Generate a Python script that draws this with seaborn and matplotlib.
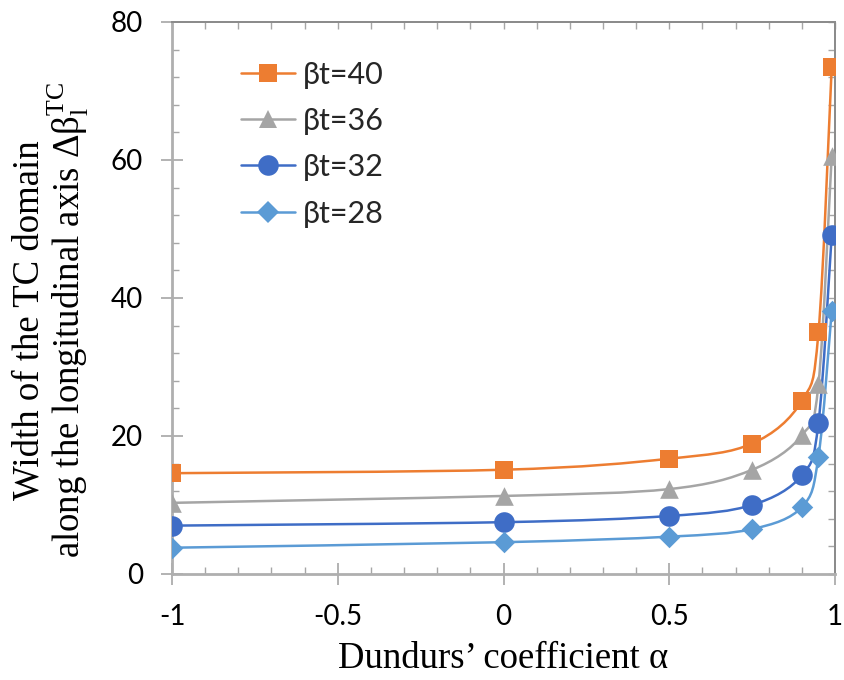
import numpy as np
import pandas as pd
import matplotlib
matplotlib.use("Agg")
import matplotlib.pyplot as plt
import seaborn as sns
from matplotlib.path import Path
from matplotlib.patches import PathPatch
from matplotlib.lines import Line2D
from matplotlib.ticker import MultipleLocator

# data
alpha = [-1.0, 0.0, 0.5, 0.75, 0.9, 0.95, 0.99]
bt40 = [14.6, 15.1, 16.7, 18.9, 25.1, 35.0, 73.5]
bt36 = [10.3, 11.3, 12.3, 15.1, 20.1, 27.5, 60.6]
bt32 = [7.0, 7.5, 8.4, 10.0, 14.3, 21.9, 49.1]
bt28 = [3.8, 4.6, 5.4, 6.5, 9.7, 17.0, 38.1]
labels = ["βt=40", "βt=36", "βt=32", "βt=28"]
xtick_labels = ["-1", "-0.5", "0", "0.5", "1"]

colors = ["#ED7D31", "#A5A5A5", "#3F6DC6", "#5B9BD5"]
markers = ["s", "^", "o", "D"]
sizes = [160, 180, 220, 120]

sns.set_style("ticks")
plt.rcParams["font.family"] = ["Lato", "DejaVu Sans"]
plt.rcParams["mathtext.fontset"] = "custom"
plt.rcParams["mathtext.rm"] = "Liberation Serif"
plt.rcParams["mathtext.it"] = "Liberation Serif:italic"

rows = []
for lab, ys in zip(labels, [bt40, bt36, bt32, bt28]):
    for a, v in zip(alpha, ys):
        rows.append({"alpha": a, "width": v, "series": lab})
df = pd.DataFrame(rows)

fig = plt.figure(figsize=(8.45, 6.8), dpi=100)
ax = fig.add_axes([0.2036, 0.156, 0.7846, 0.8117])


def smooth_path(xs, ys):
    # Excel-like smoothed line: cubic Bezier through the points
    pts = np.column_stack([xs, ys])
    n = len(pts)
    verts = [pts[0]]
    codes = [Path.MOVETO]
    for i in range(n - 1):
        p0 = pts[max(i - 1, 0)]
        p1 = pts[i]
        p2 = pts[i + 1]
        p3 = pts[min(i + 2, n - 1)]
        c1 = p1 + (p2 - p0) / 6.0
        c2 = p2 - (p3 - p1) / 6.0
        verts += [c1, c2, p2]
        codes += [Path.CURVE4] * 3
    return Path(verts, codes)


for lab, col in zip(labels, colors):
    sub = df[df["series"] == lab]
    patch = PathPatch(smooth_path(sub["alpha"].values, sub["width"].values),
                      facecolor="none", edgecolor=col, lw=1.8, zorder=2)
    ax.add_patch(patch)

for lab, col, m, s in zip(labels, colors, markers, sizes):
    sub = df[df["series"] == lab]
    sns.scatterplot(data=sub, x="alpha", y="width", marker=m, color=col,
                    s=s, edgecolor=col, linewidth=0, ax=ax, zorder=3,
                    legend=False)

ax.set_xlim(-1, 1)
ax.set_ylim(0, 80)
ax.xaxis.set_minor_locator(MultipleLocator(0.1))
ax.yaxis.set_major_locator(MultipleLocator(20))
ax.yaxis.set_minor_locator(MultipleLocator(4))
ax.set_xticks([-1, -0.5, 0, 0.5, 1])
ax.set_xticklabels(xtick_labels)

ax.tick_params(axis="both", which="major", direction="inout", length=16,
               width=1.2, color="#A6A6A6", labelsize=20, labelcolor="black")
ax.tick_params(axis="x", which="major", pad=14)
ax.tick_params(axis="y", which="major", pad=13)
ax.tick_params(axis="both", which="minor", direction="in", length=5,
               width=1.0, color="#A6A6A6")

for side in ["left", "bottom"]:
    ax.spines[side].set_color("#AFAFAF")
    ax.spines[side].set_linewidth(2.0)
for side in ["top", "right"]:
    ax.spines[side].set_visible(True)
    ax.spines[side].set_color("#8C8C8C")
    ax.spines[side].set_linewidth(1.4)

top = ax.secondary_xaxis("top")
top.set_xticks(np.arange(-1, 1.001, 0.1))
top.tick_params(direction="in", length=5, width=1.0, color="#A6A6A6",
                labeltop=False)
top.spines["top"].set_color("#8C8C8C")
top.spines["top"].set_linewidth(1.4)
right = ax.secondary_yaxis("right")
right.set_yticks(np.arange(0, 80.1, 4))
right.tick_params(direction="in", length=5, width=1.0, color="#A6A6A6",
                  labelright=False)
right.spines["right"].set_color("#8C8C8C")
right.spines["right"].set_linewidth(1.4)

serif = ["Liberation Serif", "DejaVu Serif"]
ax.set_xlabel("Dundurs’ coefficient α", fontsize=26.5, family=serif,
              labelpad=8, color="black")
ax.set_ylabel("Width of the TC domain\nalong the longitudinal axis "
              r"$\mathrm{Δβ}_\mathrm{l}^\mathrm{TC}$",
              fontsize=26.5, family=serif, labelpad=14, linespacing=1.0,
              color="black")
ax.yaxis.label.set_y(0.46)

handles = [Line2D([0], [0], color=c, lw=1.8, marker=m,
                  markersize=np.sqrt(s), markeredgewidth=0)
           for c, m, s in zip(colors, markers, sizes)]
ax.legend(handles, labels, loc="upper left", bbox_to_anchor=(0.063, 0.98),
          frameon=False, fontsize=22, handlelength=1.75, labelspacing=0.6,
          handletextpad=0.25)

fig.savefig("out.png", dpi=100)
